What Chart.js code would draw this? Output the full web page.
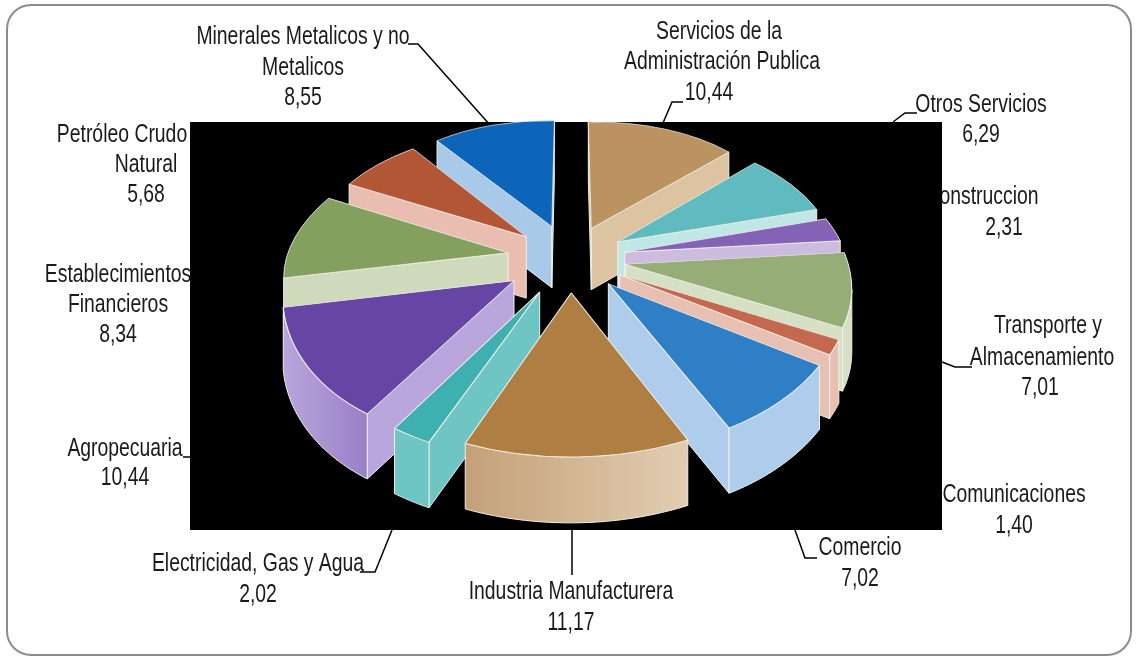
<!DOCTYPE html>
<html>
<head>
<meta charset="utf-8">
<title>PIB por sector</title>
<script src="https://cdn.jsdelivr.net/npm/chart.js@4"></script>
<style>
  html, body { margin: 0; padding: 0; background: #fff; }
  canvas { display: block; }
</style>
</head>
<body>
<canvas id="pie" width="1139" height="657"></canvas>
<script>
/* sectors, clockwise from twelve o'clock */
const sectors = [
  'Servicios de la\nAdministración Publica', 'Otros Servicios', 'Construccion',
  'Transporte y\nAlmacenamiento', 'Comunicaciones', 'Comercio',
  'Industria Manufacturera', 'Electricidad, Gas y Agua', 'Agropecuaria',
  'Establecimientos\nFinancieros', 'Petróleo Crudo\nNatural', 'Minerales Metalicos y no\nMetalicos'
];
const shares = [10.44, 6.29, 2.31, 7.01, 1.40, 7.02, 11.17, 2.02, 10.44, 8.34, 5.68, 8.55];

const topColors  = ['#BB9361', '#5FBBBF', '#8463B6', '#96AD78', '#C4694F', '#2F7FC6',
                    '#AF7E42', '#3FB0B0', '#6645A5', '#84A05F', '#B35636', '#0C65B8'];
const wallLeft   = ['#DCC3A1', '#C0E6E6', '#CDBBE0', '#D5E0C5', '#E8C0B3', '#AECDEC',
                    '#C4A077', '#6FC4C4', '#B9A6DC', '#CFDABC', '#E9BDB0', '#A8CAE8'];
const wallRight  = ['#DCC3A1', '#C0E6E6', '#CDBBE0', '#D5E0C5', '#E8C0B3', '#AECDEC',
                    '#E2CDB2', '#6FC4C4', '#9A7FC8', '#CFDABC', '#E9BDB0', '#A8CAE8'];
const pullOut    = [56, 56, 56, 56, 56, 56, 56, 62, 66, 63, 58, 58];

/* label text: x centre and y centre for each line, name lines then the value */
const labelSpots = [
  [[719, 32], [722, 62], [709, 93]],
  [[981, 105], [981, 135]],
  [[982, 197], [1004, 228]],
  [[1048, 326], [1042, 358], [1040, 388]],
  [[1014, 495], [1014, 526]],
  [[860, 548], [860, 579]],
  [[571, 592], [571, 623]],
  [[258, 564], [258, 595]],
  [[125, 449], [125, 478]],
  [[118, 275], [118, 305], [118, 335]],
  [[122, 135], [146, 165], [146, 195]],
  [[303, 37], [303, 68], [303, 98]]
];
const leaders = [
  [[660, 130], [672, 102], [683, 102]],
  [[917, 113], [905, 113], [893, 122]],
  [[972, 367], [955, 367], [942, 362]],
  [[817, 558], [805, 558], [795, 530]],
  [[572, 530], [572, 575]],
  [[360, 572], [375, 572], [392, 530]],
  [[183, 457], [190, 457]],
  [[408, 44], [418, 44], [490, 125]]
];

/* view of the pie */
const RADIUS = 222, HEIGHT = 62;
const VIEW = { cx: 570, cy: 258, squash: 0.6, perspBack: 0.00076, perspFront: 0.00062, perspHeight: 0.3 };

function project(u, v, h) {
  const scale = 1 / (1 - (v < 0 ? VIEW.perspBack : VIEW.perspFront) * v);
  const lift = h * (1 + (scale - 1) * VIEW.perspHeight);
  return [VIEW.cx + u * scale, VIEW.cy + VIEW.squash * v * scale - lift];
}

function tracePoly(ctx, pts) {
  ctx.beginPath();
  pts.forEach((p, i) => i ? ctx.lineTo(p[0], p[1]) : ctx.moveTo(p[0], p[1]));
  ctx.closePath();
}

function fillPoly(ctx, pts, fill) {
  tracePoly(ctx, pts);
  ctx.fillStyle = fill;
  ctx.fill();
  ctx.strokeStyle = '#f1f1ea';
  ctx.lineWidth = 1;
  ctx.stroke();
}

// positive when the points run clockwise on screen
function winding(pts) {
  let sum = 0;
  pts.forEach((p, i) => {
    const q = pts[(i + 1) % pts.length];
    sum += p[0] * q[1] - q[0] * p[1];
  });
  return sum;
}

/* radial faces and rim of one slice, then its top through the arc element */
function drawSlice(ctx, arc, i) {
  const { startAngle: a0, endAngle: a1, outerRadius: r } = arc;
  const mid = (a0 + a1) / 2;
  const ox = pullOut[i] * Math.cos(mid), oy = pullOut[i] * Math.sin(mid);
  const at = (t, rad, h) => project(ox + rad * Math.cos(t), oy + rad * Math.sin(t), h);

  // flat arc -> screen, fixed by the apex and the two rim corners
  const A = at(0, 0, 0), B = at(a0, r, 0), C = at(a1, r, 0);
  const ax = r * Math.cos(a0), ay = r * Math.sin(a0);
  const bx = r * Math.cos(a1), by = r * Math.sin(a1);
  const det = ax * by - bx * ay;
  const ux = B[0] - A[0], uy = B[1] - A[1], wx = C[0] - A[0], wy = C[1] - A[1];
  const m11 = (ux * by - wx * ay) / det, m12 = (wx * ax - ux * bx) / det;
  const m21 = (uy * by - wy * ay) / det, m22 = (wy * ax - uy * bx) / det;

  // rim follows the mapped arc so it meets the top face without a gap
  const rimAt = t => {
    const x = r * Math.cos(t), y = r * Math.sin(t);
    return [A[0] + m11 * x + m12 * y, A[1] + m21 * x + m22 * y];
  };
  const below = (t, p) => [p[0], p[1] + at(t, r, -HEIGHT)[1] - at(t, r, 0)[1]];
  const face = t => [A, at(t, r, 0), at(t, r, -HEIGHT), at(t, 0, -HEIGHT)];

  // only the faces turned towards the viewer
  if (winding(face(a0)) < 0) fillPoly(ctx, face(a0), wallLeft[i]);
  if (winding(face(a1)) > 0) fillPoly(ctx, face(a1), wallLeft[i]);

  const rimTop = [], rimBottom = [];
  const STEPS = 40;
  for (let k = 0; k < STEPS; k++) {
    const t0 = a0 + (a1 - a0) * k / STEPS, t1 = a0 + (a1 - a0) * (k + 1) / STEPS;
    const p0 = rimAt(t0), p1 = rimAt(t1);
    const seg = [p0, p1, below(t1, p1), below(t0, p0)];
    if (winding(seg) < 0) {
      if (!rimTop.length) { rimTop.push(seg[0]); rimBottom.unshift(seg[3]); }
      rimTop.push(seg[1]);
      rimBottom.unshift(seg[2]);
    }
  }
  if (rimTop.length) {
    const xs = rimTop.map(p => p[0]);
    const grad = ctx.createLinearGradient(Math.min(...xs), 0, Math.max(...xs), 0);
    grad.addColorStop(0, wallLeft[i]);
    grad.addColorStop(1, wallRight[i]);
    fillPoly(ctx, rimTop.concat(rimBottom), grad);
  }

  ctx.save();
  ctx.transform(m11, m21, m12, m22,
    A[0] - m11 * arc.x - m12 * arc.y,
    A[1] - m21 * arc.x - m22 * arc.y);
  arc.draw(ctx);
  ctx.restore();
}

const pie3d = {
  id: 'pie3d',
  beforeDraw(chart) {
    const ctx = chart.ctx;
    ctx.save();
    ctx.fillStyle = '#fff';
    ctx.fillRect(0, 0, 1139, 657);

    ctx.beginPath();
    ctx.roundRect(7, 5, 1124, 650, 24);
    ctx.strokeStyle = '#8c8c8c';
    ctx.lineWidth = 2;
    ctx.stroke();

    ctx.strokeStyle = '#000';
    ctx.lineWidth = 1.5;
    leaders.forEach(line => {
      ctx.beginPath();
      line.forEach((p, i) => i ? ctx.lineTo(p[0], p[1]) : ctx.moveTo(p[0], p[1]));
      ctx.stroke();
    });

    ctx.fillStyle = '#1a1a1a';
    ctx.font = '25px "Liberation Sans", sans-serif';
    ctx.textAlign = 'center';
    ctx.textBaseline = 'middle';
    sectors.forEach((name, i) => {
      const lines = name.split('\n').concat(shares[i].toFixed(2).replace('.', ','));
      lines.forEach((txt, k) => {
        // condensed lettering
        ctx.save();
        ctx.translate(labelSpots[i][k][0], labelSpots[i][k][1]);
        ctx.scale(0.775, 1);
        ctx.fillText(txt, 0, 0);
        ctx.restore();
      });
    });

    // the plot backdrop sits on top of the labels
    ctx.fillStyle = '#000';
    ctx.fillRect(190, 122, 752, 408);
    ctx.restore();
  },
  beforeDatasetDraw(chart, args) {
    const ctx = chart.ctx;
    const arcs = args.meta.data.map((arc, i) => ({ arc, i }));
    // paint from the far side of the pie to the near side
    arcs.sort((p, q) => Math.sin((p.arc.startAngle + p.arc.endAngle) / 2) - Math.sin((q.arc.startAngle + q.arc.endAngle) / 2));
    arcs.forEach(({ arc, i }) => drawSlice(ctx, arc, i));
    return false;
  }
};

new Chart(document.getElementById('pie'), {
  type: 'pie',
  data: {
    labels: sectors,
    datasets: [{
      data: shares,
      backgroundColor: topColors,
      borderColor: '#f1f1ea',
      borderWidth: 1
    }]
  },
  options: {
    responsive: false,
    animation: false,
    radius: RADIUS,
    plugins: { legend: { display: false }, tooltip: { enabled: false } }
  },
  plugins: [pie3d]
});
</script>
</body>
</html>
